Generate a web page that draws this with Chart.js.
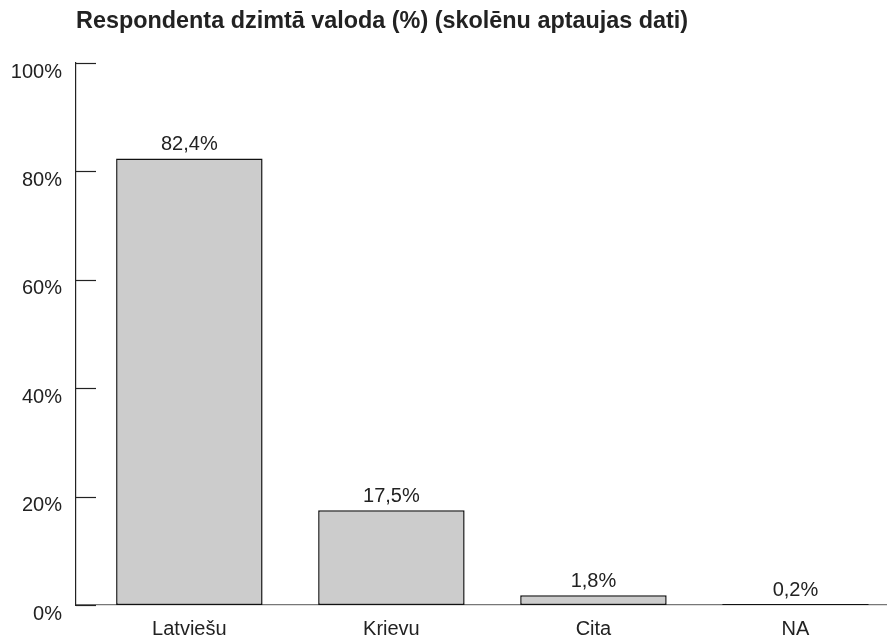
<!DOCTYPE html>
<html>
<head>
<meta charset="utf-8">
<script src="https://cdn.jsdelivr.net/npm/chart.js@4"></script>
<style>
  body { margin: 0; background: #fff; }
  #wrap { width: 887px; height: 636px; }
</style>
</head>
<body>
<div id="wrap"><canvas id="chart"></canvas></div>
<script>
const categories = ['Latviešu', 'Krievu', 'Cita', 'NA'];
const shares = [82.4, 17.5, 1.8, 0.2];
const shareLabels = ['82,4%', '17,5%', '1,8%', '0,2%'];
const yTicks = [0, 20, 40, 60, 80, 100];

const FONT = '"Liberation Sans", Arial, Helvetica, sans-serif';

// ticks on the right side of the y axis line
const innerTicks = {
  id: 'innerTicks',
  afterDraw(chart) {
    const ctx = chart.ctx;
    const y = chart.scales.y;
    ctx.save();
    ctx.strokeStyle = '#222';
    ctx.lineWidth = 1.2;
    yTicks.forEach(v => {
      const py = Math.round(y.getPixelForValue(v)) + 0.5;
      ctx.beginPath();
      ctx.moveTo(y.right, py);
      ctx.lineTo(y.right + 20, py);
      ctx.stroke();
    });
    ctx.restore();
  }
};

// value labels above bars
const barLabels = {
  id: 'barLabels',
  afterDatasetsDraw(chart) {
    const ctx = chart.ctx;
    const meta = chart.getDatasetMeta(0);
    ctx.save();
    ctx.font = '20px ' + FONT;
    ctx.fillStyle = '#222';
    ctx.textAlign = 'center';
    ctx.textBaseline = 'alphabetic';
    meta.data.forEach((bar, i) => {
      ctx.fillText(shareLabels[i], bar.x, bar.y - 8);
    });
    ctx.restore();
  }
};

new Chart(document.getElementById('chart'), {
  type: 'bar',
  data: {
    datasets: [{
      data: categories.map((c, i) => ({ x: i, y: shares[i] })),
      backgroundColor: '#cccccc',
      borderColor: '#111',
      borderWidth: 1.5,
      borderSkipped: false,
      barPercentage: 0.725,
      categoryPercentage: 1
    }]
  },
  options: {
    responsive: true,
    maintainAspectRatio: false,
    animation: false,
    layout: { padding: 0 },
    plugins: {
      legend: { display: false },
      tooltip: { enabled: false },
      title: {
        display: true,
        text: 'Respondenta dzimtā valoda (%) (skolēnu aptaujas dati)',
        align: 'start',
        fullSize: false,
        color: '#222',
        font: { family: FONT, size: 23.4, weight: 'bold' },
        padding: { top: 8, bottom: 27 }
      }
    },
    scales: {
      x: {
        type: 'linear',
        offset: false,
        min: -0.561,
        max: 3.453,
        grid: { display: false, drawTicks: false, offset: false },
        border: { display: true, color: '#777', width: 1.2 },
        afterBuildTicks(scale) {
          scale.ticks = categories.map((c, i) => ({ value: i }));
        },
        afterFit(scale) { scale.height = 31; },
        ticks: {
          autoSkip: false,
          maxRotation: 0,
          padding: 12,
          color: '#222',
          font: { family: FONT, size: 20 },
          callback: v => categories[v]
        }
      },
      y: {
        min: 0,
        max: 100,
        grid: { display: false, drawTicks: false },
        border: { display: true, color: '#222', width: 1.2 },
        afterBuildTicks(scale) {
          scale.ticks = yTicks.map(v => ({ value: v }));
        },
        afterFit(scale) { scale.width = 76; },
        ticks: {
          padding: 14,
          labelOffset: 9,
          color: '#222',
          font: { family: FONT, size: 20 },
          callback: v => v + '%'
        }
      }
    }
  },
  plugins: [innerTicks, barLabels]
});
</script>
</body>
</html>
